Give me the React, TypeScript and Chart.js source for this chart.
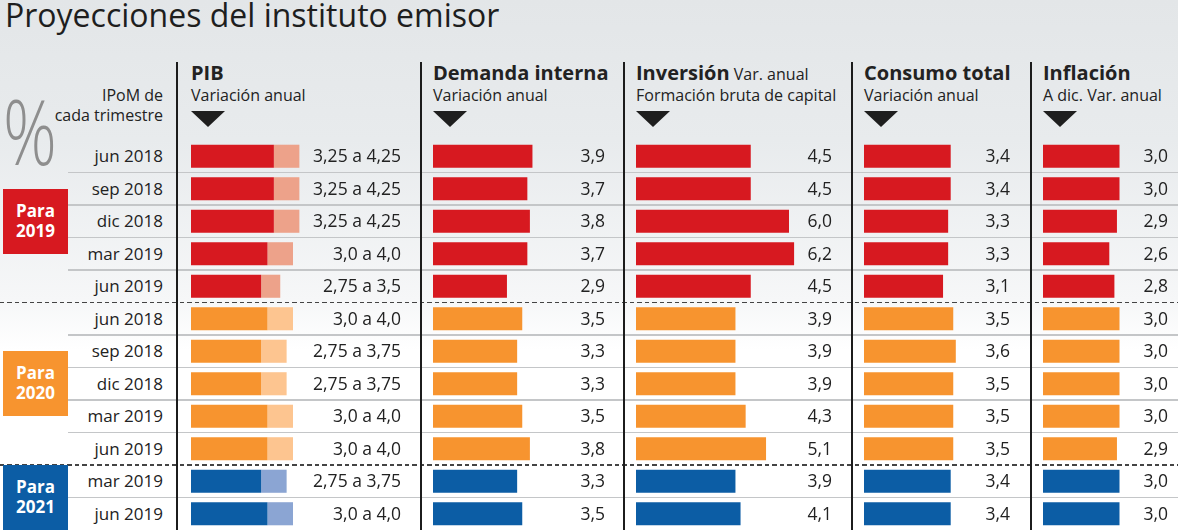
import React, { useEffect, useRef } from "react";
import { Chart, registerables } from "chart.js";

Chart.register(...registerables);

// ---------- DATA ----------
const rowLabels = [
  "jun 2018", "sep 2018", "dic 2018", "mar 2019", "jun 2019",
  "jun 2018", "sep 2018", "dic 2018", "mar 2019", "jun 2019",
  "mar 2019", "jun 2019",
];
const rowGroup = [0, 0, 0, 0, 0, 1, 1, 1, 1, 1, 2, 2];
const groupLabels = ["2019", "2020", "2021"];

const pibLow = [3.25, 3.25, 3.25, 3.0, 2.75, 3.0, 2.75, 2.75, 3.0, 3.0, 2.75, 3.0];
const pibHigh = [4.25, 4.25, 4.25, 4.0, 3.5, 4.0, 3.75, 3.75, 4.0, 4.0, 3.75, 4.0];
const demandaInterna = [3.9, 3.7, 3.8, 3.7, 2.9, 3.5, 3.3, 3.3, 3.5, 3.8, 3.3, 3.5];
const inversion = [4.5, 4.5, 6.0, 6.2, 4.5, 3.9, 3.9, 3.9, 4.3, 5.1, 3.9, 4.1];
const consumoTotal = [3.4, 3.4, 3.3, 3.3, 3.1, 3.5, 3.6, 3.5, 3.5, 3.5, 3.4, 3.4];
const inflacion = [3.0, 3.0, 2.9, 2.6, 2.8, 3.0, 3.0, 3.0, 3.0, 2.9, 3.0, 3.0];

// ---------- STYLE ----------
const FONT = '"Open Sans", "Noto Sans", sans-serif';
const darkColors = ["#d71920", "#f7942f", "#0c5da5"];
const lightColors = ["#eda28a", "#fdc590", "#8ba5d3"];
const groupBoxColors = ["#d71920", "#f7942f", "#0c5da5"];
const TEXT = "#222";
const W = 1178;
const H = 530;
const ROW_TOP = 140;
const ROW_H = 32.5;
const PX_PER_UNIT = 25.5;

const fmt = (v: number) => (Number.isInteger(v) ? v.toFixed(1) : String(v)).replace(".", ",");

type ColumnSpec = {
  key: string;
  divider: number;
  left: number;
  right: number;
  title: string;
  titleExtra?: string;
  subtitle: string;
  values: number[];
  high?: number[];
};

const columns: ColumnSpec[] = [
  { key: "pib", divider: 177, left: 191, right: 403, title: "PIB", subtitle: "Variación anual", values: pibLow, high: pibHigh },
  { key: "dem", divider: 421, left: 433, right: 607, title: "Demanda interna", subtitle: "Variación anual", values: demandaInterna },
  { key: "inv", divider: 624, left: 636, right: 834, title: "Inversión", titleExtra: " Var. anual", subtitle: "Formación bruta de capital", values: inversion },
  { key: "con", divider: 852, left: 864, right: 1012, title: "Consumo total", subtitle: "Variación anual", values: consumoTotal },
  { key: "inf", divider: 1031, left: 1043, right: 1170, title: "Inflación", subtitle: "A dic. Var. anual", values: inflacion },
];

// baseline offset for Open Sans with line-height 1
const BASE = 0.888;

function Txt(props: {
  x: number; y: number; size: number; text: React.ReactNode; weight?: number;
  align?: "left" | "right" | "center"; color?: string; scaleX?: number;
}) {
  const { x, y, size, text, weight = 400, align = "left", color = TEXT, scaleX } = props;
  const style: React.CSSProperties = {
    position: "absolute",
    top: y - BASE * size,
    fontFamily: FONT,
    fontSize: size,
    lineHeight: `${size}px`,
    fontWeight: weight,
    color,
    whiteSpace: "nowrap",
  };
  if (align === "left") style.left = x;
  else if (align === "right") style.right = W - x;
  else {
    style.left = x;
    style.transform = "translateX(-50%)";
  }
  if (scaleX) {
    style.transform = `scaleX(${scaleX})`;
    style.transformOrigin = "left center";
  }
  return <div style={style}>{text}</div>;
}

function ColumnChart({ spec }: { spec: ColumnSpec }) {
  const ref = useRef<HTMLCanvasElement | null>(null);
  const width = spec.right - spec.left;
  const height = ROW_H * rowLabels.length;
  useEffect(() => {
    if (!ref.current) return;
    const colorsDark = rowGroup.map((g) => darkColors[g]);
    const colorsLight = rowGroup.map((g) => lightColors[g]);
    const texts = spec.high
      ? spec.values.map((v, i) => `${fmt(v)} a ${fmt(spec.high![i])}`)
      : spec.values.map((v) => fmt(v));
    const datasets: any[] = [
      {
        data: spec.values,
        backgroundColor: colorsDark,
        borderWidth: 0,
        barPercentage: 0.71,
        categoryPercentage: 1,
      },
    ];
    if (spec.high) {
      datasets.push({
        data: spec.values.map((v, i) => [v, spec.high![i]]),
        backgroundColor: colorsLight,
        borderWidth: 0,
        barPercentage: 0.71,
        categoryPercentage: 1,
      });
    }
    const labelPlugin = {
      id: "valueLabels",
      afterDatasetsDraw(chart: any) {
        const { ctx, chartArea, scales } = chart;
        ctx.save();
        ctx.font = `17.5px ${FONT}`;
        ctx.fillStyle = TEXT;
        ctx.textAlign = "right";
        ctx.textBaseline = "alphabetic";
        texts.forEach((t, i) => {
          ctx.fillText(t, chartArea.right - 2, scales.y.getPixelForValue(i) + 6);
        });
        ctx.restore();
      },
    };
    const chart = new Chart(ref.current, {
      type: "bar",
      data: { labels: rowLabels, datasets },
      options: {
        indexAxis: "y",
        animation: false,
        responsive: false,
        maintainAspectRatio: false,
        events: [],
        layout: { padding: 0 },
        plugins: { legend: { display: false }, tooltip: { enabled: false } },
        scales: {
          x: { type: "linear", display: false, min: 0, max: width / PX_PER_UNIT, stacked: false },
          y: { type: "category", display: false, stacked: true, offset: true },
        },
      } as any,
      plugins: [labelPlugin],
    });
    return () => chart.destroy();
  }, []);
  return (
    <canvas
      ref={ref}
      width={width}
      height={height}
      style={{ position: "absolute", left: spec.left, top: ROW_TOP, width, height }}
    />
  );
}

export default function App() {
  const lines: React.ReactNode[] = [];
  for (let k = 1; k < rowLabels.length; k++) {
    const y = ROW_TOP + ROW_H * k;
    const dashed = rowGroup[k] !== rowGroup[k - 1];
    if (dashed) {
      lines.push(
        <div key={`l${k}`} style={{
          position: "absolute", left: 0, width: W, top: y - 0.75, height: 1.5,
          background: "repeating-linear-gradient(to right, #444 0px, #444 4.5px, transparent 4.5px, transparent 7.5px)",
        }} />
      );
    } else {
      lines.push(
        <div key={`l${k}`} style={{ position: "absolute", left: 68, width: W - 68, top: y - 0.75, height: 1.5, background: "#c4c6c8" }} />
      );
    }
  }

  // group boxes
  const groupBoxes = groupLabels.map((g, gi) => {
    const idx = rowGroup.map((r, i) => (r === gi ? i : -1)).filter((i) => i >= 0);
    const first = idx[0];
    const last = idx[idx.length - 1];
    const center = ROW_TOP + ROW_H * ((first + last + 1) / 2);
    const top = gi === 2 ? ROW_TOP + ROW_H * first : center - 32.5;
    const bottom = gi === 2 ? H : center + 32.5;
    const mid = (top + bottom) / 2;
    return (
      <React.Fragment key={g}>
        <div style={{ position: "absolute", left: 3, width: 65, top, height: bottom - top, background: groupBoxColors[gi] }} />
        <Txt x={35.5} y={mid - 4.5} size={17} weight={700} align="center" color="#fff" text="Para" />
        <Txt x={35.5} y={mid + 15.5} size={17} weight={700} align="center" color="#fff" text={g} />
      </React.Fragment>
    );
  });

  return (
    <div style={{
      position: "absolute", left: 0, top: 0, width: W, height: H, overflow: "hidden",
      background: "linear-gradient(to bottom, #e3e6e8 0px, #e8ebed 140px, #f6f7f8 300px, #ffffff 350px)",
    }}>
      <Txt x={5} y={27} size={32} text="Proyecciones del instituto emisor" color="#1e1e1e" />

      {lines}

      {columns.map((c) => (
        <div key={`d${c.key}`} style={{ position: "absolute", left: c.divider - 1, width: 2.2, top: 62, height: H - 62, background: "#1c1c1c" }} />
      ))}

      {/* % sign and row header */}
      <Txt x={3} y={165} size={90} weight={300} text="%" color="#8e8e8e" scaleX={0.74} />
      <Txt x={163} y={101} size={16} align="right" text="IPoM de" />
      <Txt x={163} y={121.5} size={16} align="right" text="cada trimestre" />

      {rowLabels.map((r, i) => (
        <Txt key={`r${i}`} x={163} y={ROW_TOP + ROW_H * (i + 0.5) + 6} size={17} align="right" text={r} />
      ))}

      {groupBoxes}

      {columns.map((c) => (
        <React.Fragment key={`h${c.key}`}>
          <Txt x={c.left} y={80.5} size={20} weight={700} text={
            <>
              {c.title}
              {c.titleExtra ? <span style={{ fontWeight: 400, fontSize: 16 }}>{c.titleExtra}</span> : null}
            </>
          } />
          <Txt x={c.left} y={101} size={16} text={c.subtitle} />
          <div style={{
            position: "absolute", left: c.left, top: 111, width: 0, height: 0,
            borderLeft: "17px solid transparent", borderRight: "17px solid transparent", borderTop: "16px solid #1e1e1e",
          }} />
        </React.Fragment>
      ))}

      {columns.map((c) => (
        <ColumnChart key={`c${c.key}`} spec={c} />
      ))}
    </div>
  );
}
